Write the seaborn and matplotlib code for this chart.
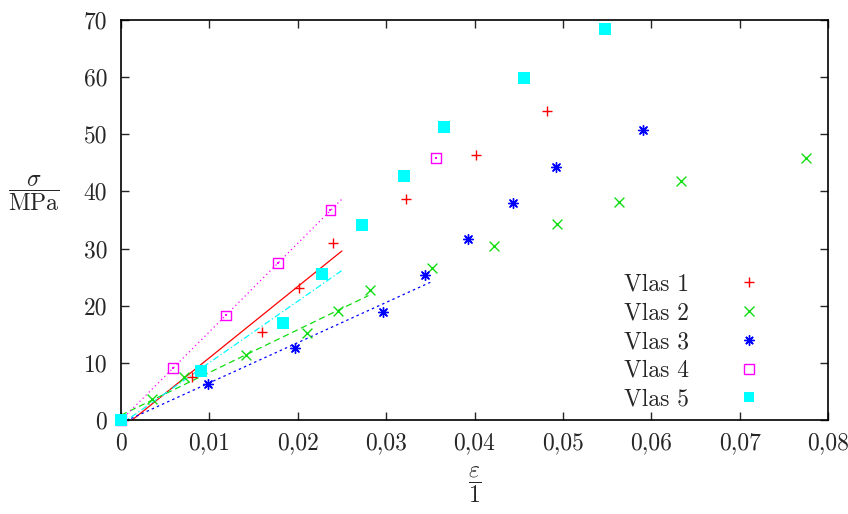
import numpy as np
import seaborn as sns
import matplotlib.pyplot as plt
from matplotlib.lines import Line2D

# strain / stress readings for each fibre
vlas1_x = [0, 0.0080, 0.0160, 0.0201, 0.0240, 0.0322, 0.0402, 0.0482]
vlas1_y = [0, 7.6, 15.4, 23.1, 30.9, 38.6, 46.3, 54.0]
vlas2_x = [0, 0.0035, 0.0071, 0.0141, 0.0211, 0.0246, 0.0282, 0.0352, 0.0422, 0.0493, 0.0563, 0.0634, 0.0775]
vlas2_y = [0, 3.7, 7.5, 11.4, 15.2, 19.0, 22.8, 26.6, 30.5, 34.3, 38.1, 41.9, 45.8]
vlas3_x = [0, 0.0098, 0.0197, 0.0296, 0.0344, 0.0393, 0.0443, 0.0492, 0.0591]
vlas3_y = [0, 6.3, 12.6, 18.9, 25.3, 31.6, 38.0, 44.3, 50.7]
vlas4_x = [0, 0.0059, 0.0119, 0.0178, 0.0237, 0.0356]
vlas4_y = [0, 9.1, 18.3, 27.5, 36.7, 45.9]
vlas5_x = [0, 0.0091, 0.0183, 0.0228, 0.0273, 0.0320, 0.0365, 0.0456, 0.0548]
vlas5_y = [0, 8.5, 17.0, 25.6, 34.1, 42.7, 51.2, 59.8, 68.4]

labels = ['Vlas 1', 'Vlas 2', 'Vlas 3', 'Vlas 4', 'Vlas 5']
# number of leading points used for the linear fit, and the fit's x range
fit_n = [5, 7, 5, 5, 4]
fit_xmax = [0.025, 0.028, 0.035, 0.025, 0.025]

xticks = [0, 0.01, 0.02, 0.03, 0.04, 0.05, 0.06, 0.07, 0.08]
xticklabels = ['0', '0,01', '0,02', '0,03', '0,04', '0,05', '0,06', '0,07', '0,08']
yticks = [0, 10, 20, 30, 40, 50, 60, 70]

colors = ['#ff0000', '#11dd11', '#0000ff', '#ff00ff', '#00ffff']
markers = ['+', 'x', (8, 2, 0), 's', 's']
sizes = [55, 50, 50, 50, 64]
linestyles = ['-', (0, (5, 3)), (0, (2, 2.5)), (0, (1, 2.5)), (0, (5, 2, 1, 2))]

sns.set_style('ticks', {'xtick.direction': 'in', 'ytick.direction': 'in'})
plt.rcParams['font.family'] = ['cmr10', 'DejaVu Serif']
plt.rcParams['mathtext.fontset'] = 'cm'
plt.rcParams['axes.unicode_minus'] = False

fig = plt.figure(figsize=(8.48, 5.14), dpi=100)
ax = fig.add_axes([121 / 848, 1 - 420 / 514, 707 / 848, 400 / 514])

series = [(vlas1_x, vlas1_y), (vlas2_x, vlas2_y), (vlas3_x, vlas3_y),
          (vlas4_x, vlas4_y), (vlas5_x, vlas5_y)]

for i, (xs, ys) in enumerate(series):
    # fitted line through the first points
    k, q = np.polyfit(xs[:fit_n[i]], ys[:fit_n[i]], 1)
    fx = np.array([0, fit_xmax[i]])
    sns.lineplot(x=fx, y=k * fx + q, color=colors[i], linestyle=linestyles[i],
                 linewidth=0.9, ax=ax)

for i, (xs, ys) in enumerate(series):
    if i == 3:
        sns.scatterplot(x=xs, y=ys, marker='s', s=sizes[i], facecolor='none',
                        edgecolor=colors[i], linewidth=1.0, ax=ax, clip_on=False, zorder=3)
        sns.scatterplot(x=xs, y=ys, marker='s', s=1.5, color=colors[i],
                        linewidth=0, ax=ax, clip_on=False, zorder=3)
    elif i == 4:
        sns.scatterplot(x=xs, y=ys, marker='s', s=sizes[i], color=colors[i],
                        linewidth=0, ax=ax, clip_on=False, zorder=3)
    else:
        sns.scatterplot(x=xs, y=ys, marker=markers[i], s=sizes[i], color=colors[i],
                        linewidth=1.0, ax=ax, clip_on=False, zorder=3)

ax.set_xlim(0, 0.08)
ax.set_ylim(0, 70)
ax.set_xticks(xticks)
ax.set_xticklabels(xticklabels)
ax.set_yticks(yticks)
ax.set_yticklabels([str(v) for v in yticks])
ax.tick_params(top=True, right=True, length=5.5, width=1.0, labelsize=17)
ax.tick_params(axis='x', pad=9)
ax.tick_params(axis='y', pad=10)
for sp in ax.spines.values():
    sp.set_linewidth(1.2)
    sp.set_color('black')

ax.set_xlabel(r'$\dfrac{\varepsilon}{1}$', fontsize=17, va='center')
ax.xaxis.set_label_coords(0.5, -0.163)
ax.set_ylabel(r'$\dfrac{\sigma}{\mathrm{MPa}}$', fontsize=17, rotation=0, va='center', ha='center')
ax.yaxis.set_label_coords(-0.123, 0.567)

handles = []
for i in range(5):
    if i == 3:
        h = Line2D([], [], linestyle='none', marker='s', markersize=7,
                   markerfacecolor='none', markeredgecolor=colors[i], markeredgewidth=1.0)
    elif i == 4:
        h = Line2D([], [], linestyle='none', marker='s', markersize=7.8,
                   color=colors[i], markeredgewidth=0)
    else:
        h = Line2D([], [], linestyle='none', marker=markers[i], markersize=7.3,
                   color=colors[i], markeredgewidth=1.0)
    handles.append(h)

ax.legend(handles, labels, loc='upper left', bbox_to_anchor=(0.711, 0.366),
          frameon=False, markerfirst=False, fontsize=17, borderpad=0,
          borderaxespad=0, handlelength=1.5, handletextpad=1.8, labelspacing=0.28)

plt.savefig('out.png', dpi=100)
